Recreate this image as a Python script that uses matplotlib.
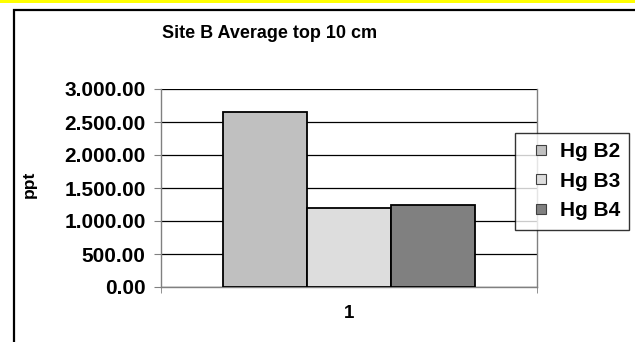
import matplotlib
matplotlib.use("Agg")
import matplotlib.pyplot as plt
from matplotlib.patches import Rectangle
from matplotlib.lines import Line2D
from matplotlib.ticker import FuncFormatter

plt.rcParams['font.family'] = ['Liberation Sans', 'DejaVu Sans']
plt.rcParams['font.weight'] = 'bold'

# Hg averages, top 10 cm, site B (ppt)
series = ["Hg B2", "Hg B3", "Hg B4"]
values = [2645, 1195, 1235]
colors = ["#C0C0C0", "#DDDDDD", "#808080"]
category = "1"
y_ticks = [0, 500, 1000, 1500, 2000, 2500, 3000]

W, H = 635, 342
fig = plt.figure(figsize=(W / 100, H / 100), dpi=100)


def px(x0, y0, x1, y1):
    # pixel box (top-left origin) -> figure fraction rect
    return [x0 / W, 1 - y1 / H, (x1 - x0) / W, (y1 - y0) / H]


# yellow strip and outer chart frame, kept behind the axes
fig.patches.append(Rectangle((0, 1 - 3 / H), 1, 3 / H, transform=fig.transFigure,
                             facecolor="#FFFF00", edgecolor="none", zorder=-2))
fig.patches.append(Rectangle((14 / W, -0.1), 1.0, 1 - 10 / H + 0.1, transform=fig.transFigure,
                             facecolor="white", edgecolor="black", linewidth=1.6, zorder=-1))

ax = fig.add_axes(px(161, 89, 537, 287))
ax.patch.set_alpha(0)
bw = 84 / 376
for i, (name, v, c) in enumerate(zip(series, values, colors)):
    ax.bar((i - 1) * bw, v, width=bw, color=c, edgecolor="black", linewidth=1.3,
           label=name, zorder=3)

ax.set_xlim(-0.5, 0.5)
ax.set_ylim(0, 3000)
ax.set_yticks(y_ticks)
ax.yaxis.set_major_formatter(FuncFormatter(lambda v, p: f"{v:,.2f}".replace(",", ".")))
ax.grid(axis="y", color="black", linewidth=0.9, zorder=0)

ax.set_xticks([0])
ax.set_xticklabels([category])
ax.set_xticks([-0.5, 0.5], minor=True)
ax.tick_params(axis="x", which="major", length=0, pad=13, labelsize=13.5)
ax.tick_params(axis="x", which="minor", length=4, color="#808080")
ax.tick_params(axis="y", length=5, color="#808080", pad=6, labelsize=15)

for s in ax.spines.values():
    s.set_color("#808080")
    s.set_linewidth(1.0)
ax.spines["top"].set_visible(False)

ax.set_ylabel("ppt", fontsize=12.5, fontweight="bold")
ax.yaxis.set_label_coords((37 - 161) / 376, 0.52)
fig.text(270 / W, 1 - 34 / H, "Site B Average top 10 cm", ha="center", va="center",
         fontsize=13)

handles = [Line2D([], [], linestyle="none", marker="s", markersize=6.5,
                  markerfacecolor=c, markeredgecolor="#404040", markeredgewidth=0.8)
           for c in colors]
leg = fig.legend(handles, series, loc="upper left", bbox_to_anchor=(515 / W, 1 - 133 / H),
                 bbox_transform=fig.transFigure, fontsize=15, frameon=True,
                 fancybox=False, edgecolor="black", handlelength=1.6,
                 handletextpad=0.1, labelspacing=0.5, borderpad=0.45, borderaxespad=0)
leg.get_frame().set_linewidth(1.0)

fig.savefig("out.png", dpi=100)
